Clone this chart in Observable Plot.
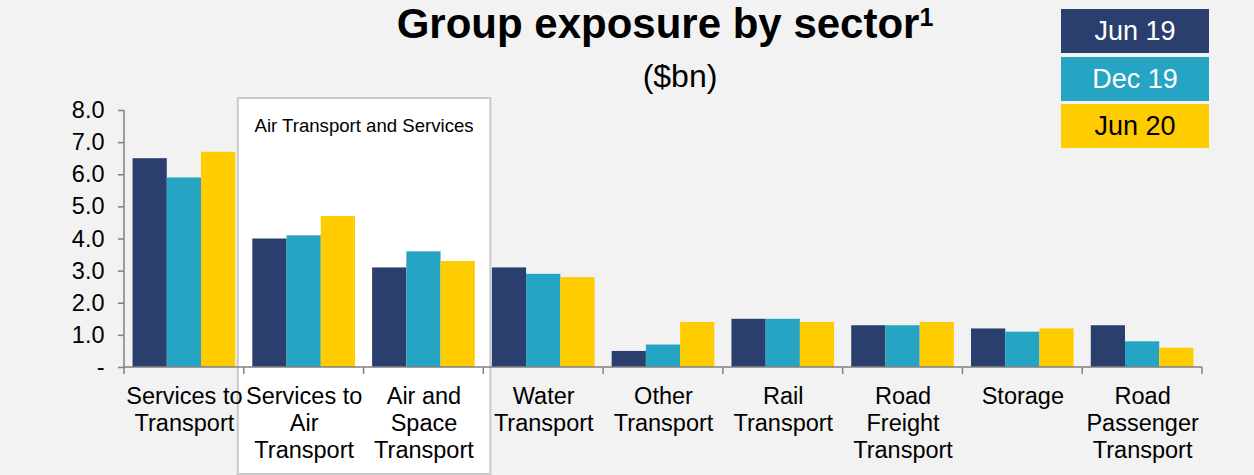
<!DOCTYPE html>
<html>
<head>
<meta charset="utf-8">
<script src="https://cdn.jsdelivr.net/npm/d3@7"></script>
<script src="https://cdn.jsdelivr.net/npm/@observablehq/plot@0.6"></script>
<style>
  html, body { margin: 0; padding: 0; background: #F2F2F2; }
  body { font-family: "Liberation Sans", Arial, sans-serif; }
  #wrap { position: relative; width: 1254px; height: 475px; overflow: hidden; }
  #title { position: absolute; left: 665px; top: 3px; transform: translateX(-50%); white-space: nowrap;
           font-size: 42px; font-weight: bold; line-height: 1; color: #000; }
  #title sup { font-size: 25px; position: relative; top: 2px; vertical-align: top; line-height: 1; }
  #subtitle { position: absolute; left: 680px; top: 60px; transform: translateX(-50%); white-space: nowrap;
              font-size: 32px; line-height: 1; color: #000; }
  .leg { position: absolute; left: 1061px; width: 148px; height: 44px; line-height: 44px; text-align: center;
         font-size: 27px; }
  #chart { position: absolute; left: 0; top: 0; }
</style>
</head>
<body>
<div id="wrap">
  <div id="chart"></div>
  <div id="title"></div>
  <div id="subtitle"></div>
  <div id="legend"></div>
</div>
<script>
const titleText = "Group exposure by sector";
const titleNote = "1";
const subtitleText = "($bn)";
const groupLabel = "Air Transport and Services";

const periods = ["Jun 19", "Dec 19", "Jun 20"];
const periodColors = ["#2A3F6E", "#25A5C3", "#FFCC00"];
const legendTextColors = ["#FFFFFF", "#FFFFFF", "#000000"];

const sectors = [
  "Services to Transport", "Services to Air Transport", "Air and Space Transport",
  "Water Transport", "Other Transport", "Rail Transport",
  "Road Freight Transport", "Storage", "Road Passenger Transport"
];
const sectorLabels = [
  "Services to\nTransport", "Services to\nAir\nTransport", "Air and\nSpace\nTransport",
  "Water\nTransport", "Other\nTransport", "Rail\nTransport",
  "Road\nFreight\nTransport", "Storage", "Road\nPassenger\nTransport"
];

const jun19 = [6.5, 4.0, 3.1, 3.1, 0.5, 1.5, 1.3, 1.2, 1.3];
const dec19 = [5.9, 4.1, 3.6, 2.9, 0.7, 1.5, 1.3, 1.1, 0.8];
const jun20 = [6.7, 4.7, 3.3, 2.8, 1.4, 1.4, 1.4, 1.2, 0.6];

const yTicks = [0, 1, 2, 3, 4, 5, 6, 7, 8];
const yTickLabels = ["-", "1.0", "2.0", "3.0", "4.0", "5.0", "6.0", "7.0", "8.0"];

const seriesValues = [jun19, dec19, jun20];
const rows = sectors.flatMap((s, i) => periods.map((p, j) => ({sector: s, period: p, value: seriesValues[j][i]})));

// Title, subtitle, legend
document.getElementById("title").innerHTML = titleText + "<sup>" + titleNote + "</sup>";
document.getElementById("subtitle").textContent = subtitleText;
const legend = document.getElementById("legend");
const legTops = [9, 57, 104];
periods.forEach((p, i) => {
  const d = document.createElement("div");
  d.className = "leg";
  d.style.top = legTops[i] + "px";
  d.style.background = periodColors[i];
  d.style.color = legendTextColors[i];
  d.textContent = p;
  legend.appendChild(d);
});

const axisGrey = "#808080";

const plot = Plot.plot({
  width: 1254,
  height: 475,
  marginTop: 110,
  marginBottom: 108,
  marginLeft: 124,
  marginRight: 52,
  style: {background: "transparent", fontFamily: "'Liberation Sans', Arial, sans-serif", color: "#000"},
  fx: {domain: sectors, padding: 0, round: false, label: null},
  x: {domain: periods, paddingInner: 0, paddingOuter: 0.25, round: false, axis: null},
  y: {domain: [0, 8], label: null},
  color: {domain: periods, range: periodColors},
  marks: [
    Plot.barY(rows, {fx: "sector", x: "period", y: "value", fill: "period"}),
    Plot.axisY({
      ticks: yTicks,
      tickFormat: d => yTickLabels[yTicks.indexOf(d)],
      tickSize: 6, tickPadding: 14, fontSize: 23.5,
      stroke: axisGrey, strokeWidth: 1.5, fill: "#000", label: null
    }),
    Plot.axisFx({
      anchor: "bottom",
      tickSize: 0, tickPadding: 17, fontSize: 23.5, lineHeight: 1.16, fill: "#000", label: null,
      tickFormat: d => sectorLabels[sectors.indexOf(d)]
    })
  ]
});

document.getElementById("chart").appendChild(plot);

// Axis lines, category boundary ticks and highlight box, from the plot's scales
const fx = plot.scale("fx");
const y = plot.scale("y");
const svg = d3.select(plot);
const y0 = y.apply(0), y8 = y.apply(8);
const bounds = sectors.map(s => fx.apply(s));
bounds.push(fx.apply(sectors[sectors.length - 1]) + fx.bandwidth);

// highlight box behind bars
const boxLeft = fx.apply(sectors[1]) - 6;
const boxRight = fx.apply(sectors[2]) + fx.bandwidth + 7;
const gBox = svg.insert("g", ":first-child");
gBox.append("rect")
  .attr("x", boxLeft).attr("y", 98)
  .attr("width", boxRight - boxLeft).attr("height", 474 - 98)
  .attr("fill", "#FFFFFF").attr("stroke", "#C9C9CD").attr("stroke-width", 2);
gBox.append("text")
  .attr("x", (boxLeft + boxRight) / 2).attr("y", 132)
  .attr("text-anchor", "middle")
  .attr("font-size", 18.6)
  .attr("fill", "#000")
  .text(groupLabel);

const gAxis = svg.append("g").attr("stroke", axisGrey).attr("stroke-width", 1.5).attr("fill", "none");
gAxis.append("line").attr("x1", bounds[0]).attr("x2", bounds[0]).attr("y1", y8).attr("y2", y0);
gAxis.append("line").attr("x1", bounds[0]).attr("x2", bounds[bounds.length - 1]).attr("y1", y0).attr("y2", y0);
bounds.forEach(b => {
  gAxis.append("line").attr("x1", b).attr("x2", b).attr("y1", y0).attr("y2", y0 + 7);
});
</script>
</body>
</html>
